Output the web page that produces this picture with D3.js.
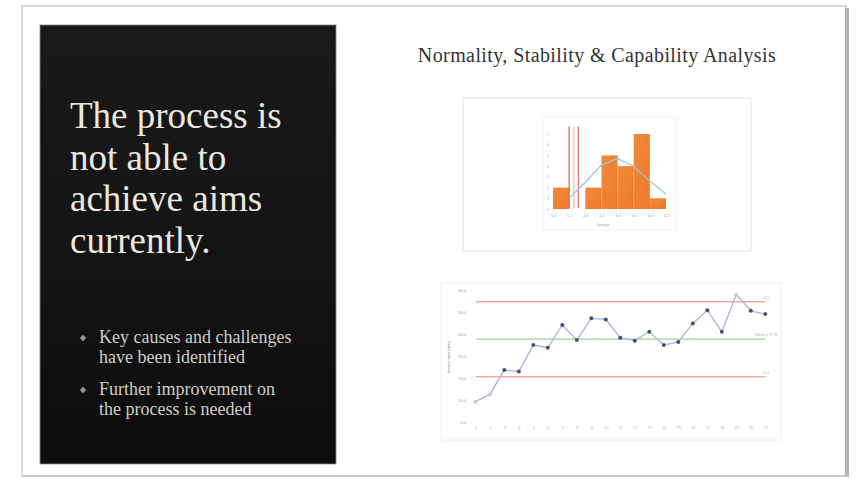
<!DOCTYPE html>
<html>
<head>
<meta charset="utf-8">
<script src="https://cdn.jsdelivr.net/npm/d3@7"></script>
<style>
  html, body { margin: 0; padding: 0; background: #ffffff; }
  svg { display: block; }
</style>
</head>
<body>
<svg id="slide" width="856" height="481"></svg>
<script>
// ---------------- DATA ----------------
const headline = ["The process is", "not able to", "achieve aims", "currently."];
const bullets = [["Key causes and challenges", "have been identified"], ["Further improvement on", "the process is needed"]];
const chartTitle = "Normality, Stability & Capability Analysis";

// Histogram (normality / capability)
const histEdges = ["1.0", "1.5", "2.0", "2.5", "3.0", "3.5", "4.0", "4.5"];   // bin edge labels
const histCounts = [2, 0, 2, 5, 4, 7, 1];                                      // frequency per bin
const normalFit = [1.0, 2.5, 4.1, 4.7, 4.0, 2.6, 1.4];                        // expected counts at edges 1..7
const specLimits = [{ name: "LSL", at: 1.0 }, { name: "Target", at: 1.3 }, { name: "Limit", at: 1.57 }];
const histYTicks = [0, 1, 2, 3, 4, 5, 6, 7];

// Control chart (stability)
const samples = d3.range(1, 22).map(String);
const sampleValues = [9.5, 12.8, 23.8, 23.1, 35.1, 33.9, 44.2, 37.4, 47.2, 46.7, 38.4,
                      37.1, 41.1, 35.1, 36.5, 44.9, 50.9, 41.1, 58.0, 50.6, 49.1];
const controlMean = 37.8;
const controlUCL = 54.7;
const controlLCL = 20.8;
const controlYTicks = [0, 10, 20, 30, 40, 50, 60];

// ---------------- DRAW ----------------
const svg = d3.select("#slide");
const defs = svg.append("defs");

// slide frame
svg.append("rect").attr("x", 22).attr("y", 6).attr("width", 824).attr("height", 470)
  .attr("fill", "#ffffff").attr("stroke", "#cfcfcf").attr("stroke-width", 1.6);
svg.append("rect").attr("x", 845).attr("y", 8).attr("width", 4).attr("height", 469).attr("fill", "#b4b4b4");
svg.append("rect").attr("x", 22).attr("y", 475.5).attr("width", 826).attr("height", 1.5).attr("fill", "#c4c4c4");

// dark panel
const pg = defs.append("linearGradient").attr("id", "panelGrad").attr("x1", 0).attr("y1", 0).attr("x2", 0).attr("y2", 1);
pg.append("stop").attr("offset", "0%").attr("stop-color", "#191919");
pg.append("stop").attr("offset", "55%").attr("stop-color", "#141414");
pg.append("stop").attr("offset", "100%").attr("stop-color", "#0c0c0c");
svg.append("rect").attr("x", 40).attr("y", 25).attr("width", 296).attr("height", 439)
  .attr("fill", "url(#panelGrad)").attr("stroke", "#8a8a8a").attr("stroke-width", 0.8);

const serif = "'Liberation Serif', 'DejaVu Serif', serif";
svg.append("g").selectAll("text").data(headline).join("text")
  .attr("x", 70).attr("y", (d, i) => 128 + i * 41.7)
  .attr("font-family", serif).attr("font-size", 37).attr("fill", "#ebe8e0")
  .text(d => d);

const bg = svg.append("g");
bullets.forEach((b, i) => {
  const y0 = 343 + i * 52;
  bg.append("path").attr("d", d3.symbol(d3.symbolDiamond2, 26)())
    .attr("transform", `translate(83,${y0 - 5})`).attr("fill", "#9a9a9a");
  b.forEach((line, j) => {
    bg.append("text").attr("x", 99).attr("y", y0 + j * 20)
      .attr("font-family", serif).attr("font-size", 18).attr("fill", "#cfcdc8").text(line);
  });
});

// right title
svg.append("text").attr("x", 597).attr("y", 62).attr("text-anchor", "middle")
  .attr("font-family", serif).attr("font-size", 20).attr("letter-spacing", 0.4)
  .attr("fill", "#333333").text(chartTitle);

// ---- histogram ----
svg.append("rect").attr("x", 463).attr("y", 98).attr("width", 288).attr("height", 153)
  .attr("fill", "#ffffff").attr("stroke", "#e4e4e4").attr("stroke-width", 1);
svg.append("rect").attr("x", 543).attr("y", 117).attr("width", 133).attr("height", 113)
  .attr("fill", "none").attr("stroke", "#f3f3f3").attr("stroke-width", 1);

const hx = d3.scaleLinear().domain([0, histCounts.length]).range([553, 666]);
const hy = d3.scaleLinear().domain([0, 7]).range([209, 134]);
const hg = svg.append("g");

const bGrad = defs.append("linearGradient").attr("id", "barGrad").attr("x1", 0).attr("y1", 0).attr("x2", 1).attr("y2", 1);
bGrad.append("stop").attr("offset", "0%").attr("stop-color", "#f08a3c");
bGrad.append("stop").attr("offset", "100%").attr("stop-color", "#ee7a2a");

hg.selectAll("rect.bar").data(histCounts).join("rect").attr("class", "bar")
  .attr("x", (d, i) => hx(i)).attr("width", (d, i) => hx(i + 1) - hx(i))
  .attr("y", d => hy(d)).attr("height", d => hy(0) - hy(d))
  .attr("fill", "url(#barGrad)");

// spec limit lines
const specColors = ["#e06a5a", "#f0c8a0", "#e07a6a"];
hg.selectAll("line.spec").data(specLimits).join("line").attr("class", "spec")
  .attr("x1", d => hx(d.at)).attr("x2", d => hx(d.at))
  .attr("y1", hy(7.7)).attr("y2", hy(0) - 1)
  .attr("stroke", (d, i) => specColors[i]).attr("stroke-width", 1.3);

// normal fit line
hg.append("path").datum(normalFit)
  .attr("d", d3.line().x((d, i) => hx(i + 1)).y(d => hy(d)))
  .attr("fill", "none").attr("stroke", "#9cc2e0").attr("stroke-width", 1.2);

// axes
const hyAxis = hg.append("g").attr("transform", "translate(551,0)")
  .call(d3.axisLeft(hy).tickValues(histYTicks).tickFormat(d3.format("d")).tickSize(0).tickPadding(2));
hyAxis.select(".domain").remove();
hyAxis.selectAll("text").attr("font-size", 3.5).attr("fill", "#b0b0b0");

const hxAxis = hg.append("g").attr("transform", "translate(0,214)")
  .call(d3.axisBottom(hx).tickValues(d3.range(histEdges.length)).tickFormat(i => histEdges[i]).tickSize(0).tickPadding(0));
hxAxis.select(".domain").remove();
hxAxis.selectAll("text").attr("font-size", 4).attr("fill", "#8ea6d6");
hg.append("text").attr("x", 603).attr("y", 226).attr("text-anchor", "middle")
  .attr("font-size", 3.5).attr("fill", "#a8a8a8").attr("font-family", "Roboto, sans-serif").text("Average");

// ---- control chart ----
svg.append("rect").attr("x", 441).attr("y", 283).attr("width", 340).attr("height", 157)
  .attr("fill", "#ffffff").attr("stroke", "#f0f0f0").attr("stroke-width", 1);

const cx = d3.scalePoint().domain(samples).range([475.3, 765.3]);
const cy = d3.scaleLinear().domain([0, 60]).range([422.7, 290]);
const cg = svg.append("g");

const limits = [
  { v: controlUCL, c: "#f0aaa2", label: "UCL" },
  { v: controlMean, c: "#a9cc9c", label: "Mean = " + controlMean.toFixed(1) },
  { v: controlLCL, c: "#f0aaa2", label: "LCL" }
];
cg.selectAll("line.lim").data(limits).join("line").attr("class", "lim")
  .attr("x1", 476).attr("x2", 765).attr("y1", d => cy(d.v)).attr("y2", d => cy(d.v))
  .attr("stroke", d => d.c).attr("stroke-width", 1.4);
cg.selectAll("text.lim").data(limits).join("text").attr("class", "lim")
  .attr("x", (d, i) => i === 1 ? 755 : 763).attr("y", d => cy(d.v) - 3)
  .attr("font-size", 4).attr("fill", "#b8b8b8").attr("font-family", "Roboto, sans-serif")
  .text(d => d.label);

cg.append("path").datum(sampleValues)
  .attr("d", d3.line().x((d, i) => cx(samples[i])).y(d => cy(d)))
  .attr("fill", "none").attr("stroke", "#a7b2df").attr("stroke-width", 1.3);

cg.selectAll("circle").data(sampleValues).join("circle")
  .attr("cx", (d, i) => cx(samples[i])).attr("cy", d => cy(d)).attr("r", 2)
  .attr("fill", d => (d > controlUCL || d < controlLCL) ? "#c9c9e0" : "#4c5068");

const cyAxis = cg.append("g").attr("transform", "translate(466,0)")
  .call(d3.axisLeft(cy).tickValues(controlYTicks).tickFormat(d3.format(".1f")).tickSize(0).tickPadding(0));
cyAxis.select(".domain").remove();
cyAxis.selectAll("text").attr("font-size", 4).attr("fill", "#9a9a9a");

const cxAxis = cg.append("g").attr("transform", "translate(0,426)")
  .call(d3.axisBottom(cx).tickSize(0).tickPadding(0));
cxAxis.select(".domain").remove();
cxAxis.selectAll("text").attr("font-size", 4).attr("fill", "#b0b0c0");

cg.append("text").attr("transform", "translate(450,357) rotate(-90)").attr("text-anchor", "middle")
  .attr("font-size", 3.5).attr("fill", "#8a8a8a").attr("font-family", "Roboto, sans-serif").text("Average value (units)");
</script>
</body>
</html>
